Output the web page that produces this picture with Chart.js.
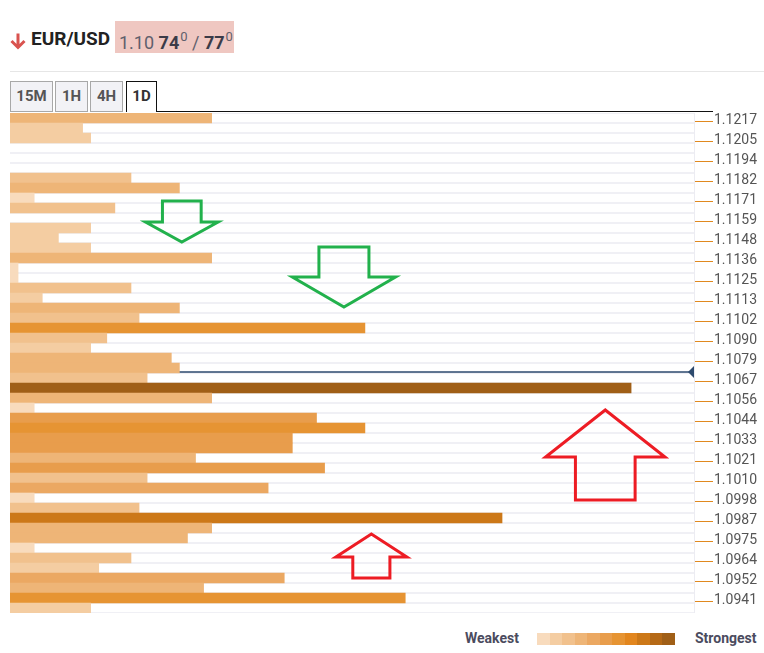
<!DOCTYPE html>
<html lang="en">
<head>
<meta charset="UTF-8">
<title>EUR/USD - Confluence Detector</title>
<script src="https://cdn.jsdelivr.net/npm/chart.js"></script>
<style>
    body { margin: 0; background: #fff; font-family: Roboto, sans-serif; }
    #page { position: relative; width: 764px; height: 653px; overflow: hidden; }
    .abs { position: absolute; }
    #pair { left: 31px; top: 29px; font-size: 19px; line-height: 20px; font-weight: 700; color: #222; }
    #quote { left: 115px; top: 21px; width: 119px; height: 32px; background: #EFC7C1; box-sizing: border-box;
             padding: 2px 0 0 4px; font-size: 18px; line-height: 30px; color: #5f5f6c; white-space: nowrap; }
    #quote b { color: #3b3b48; }
    #quote sup { font-size: 13px; position: relative; top: -1px; margin-left: 1px; }
    #sep { left: 10px; top: 71px; width: 754px; height: 1px; background: #E6E6E6; }
    .tab { top: 81px; height: 31px; box-sizing: border-box; border: 1px solid #A8A8A8; background: #F2F2F6;
           font-size: 15px; font-weight: 700; color: #555; text-align: center; line-height: 29px; }
    .tab.on { background: #fff; border-color: #111; border-bottom: none; color: #333; }
    #baseline { left: 156px; top: 111px; width: 557px; height: 1px; background: #111; }
    .chart-container { left: 10px; top: 113px; width: 754px; height: 500px; }
    .legend-text { top: 630px; font-size: 14px; line-height: 16px; font-weight: 700; color: #4b4b5e; }
    #swatches { left: 537px; top: 633px; height: 12px; display: flex; }
    #swatches div { width: 12.55px; height: 12px; }
</style>
</head>
<body>
<div id="page">
    <svg class="abs" style="left:9px;top:32px" width="18" height="18" viewBox="0 0 18 18">
        <path d="M9 1.5 V15.5 M2.5 9 L9 15.5 L15.5 9" fill="none" stroke="#D9534F" stroke-width="3"/>
    </svg>
    <div id="pair" class="abs">EUR/USD</div>
    <div id="quote" class="abs">1.10 <b>74</b><sup>0</sup> / <b>77</b><sup>0</sup></div>
    <div id="sep" class="abs"></div>

    <div class="abs tab" style="left:10px;width:43px">15M</div>
    <div class="abs tab" style="left:55px;width:33px">1H</div>
    <div class="abs tab" style="left:90px;width:33px">4H</div>
    <div class="abs tab on" style="left:126px;width:31px">1D</div>
    <div id="baseline" class="abs"></div>

    <div class="abs chart-container">
        <canvas id="confluenceChart"></canvas>
    </div>

    <div class="abs legend-text" style="left:465px">Weakest</div>
    <div id="swatches" class="abs"></div>
    <div class="abs legend-text" style="left:695px">Strongest</div>
</div>

<script>
    // price levels shown on the right axis (one every two rows)
    const tickLabels = ['1.1217', '1.1205', '1.1194', '1.1182', '1.1171', '1.1159', '1.1148', '1.1136', '1.1125',
        '1.1113', '1.1102', '1.1090', '1.1079', '1.1067', '1.1056', '1.1044', '1.1033', '1.1021', '1.1010',
        '1.0998', '1.0987', '1.0975', '1.0964', '1.0952', '1.0941'];

    // confluence strength per row, top to bottom
    const strength = [25, 9, 10, 0, 0, 0, 15, 21, 3, 13,
        0, 10, 6, 10, 25, 1, 1, 15, 4, 21,
        16, 44, 12, 10, 20, 21, 17, 77, 25, 3,
        38, 44, 35, 35, 23, 39, 17, 32, 3, 16,
        61, 25, 22, 3, 15, 11, 34, 24, 49, 10];

    // shade (1 = weakest, 11 = strongest) per row
    const shade = [4, 2, 2, 0, 0, 0, 3, 4, 1, 3,
        0, 2, 2, 2, 4, 1, 1, 3, 2, 4,
        3, 7, 3, 2, 4, 4, 3, 11, 4, 1,
        6, 7, 6, 6, 4, 6, 3, 5, 1, 3,
        9, 4, 4, 1, 3, 2, 5, 4, 7, 2];

    const palette = ['#F8DBBD', '#F4CDA2', '#F1C18D', '#EEB577', '#EBA862', '#E89D4C',
        '#E69433', '#E2861E', '#CC7818', '#B56916', '#A05F17'];

    const rows = Array.from({ length: strength.length }, (_, i) => 'r' + i);
    const currentPriceRow = 25.4;   // 1.1074 on the row scale

    // hand-drawn arrows: x in strength units, rows for tip / head base / tail
    const arrows = [
        { color: '#22B14C', x: 21.3, shaft: 2.4, head: 4.5, tip: 12.4, base: 10.4, tail: 8.3 },
        { color: '#22B14C', x: 41.4, shaft: 3.1, head: 6.4, tip: 18.9, base: 15.9, tail: 12.9 },
        { color: '#ED1C24', x: 73.8, shaft: 3.7, head: 7.4, tip: 29.2, base: 33.9, tail: 38.2 },
        { color: '#ED1C24', x: 44.8, shaft: 2.3, head: 4.4, tip: 41.6, base: 43.9, tail: 46.0 }
    ];

    document.getElementById('swatches').innerHTML = palette.map(c => `<div style="background:${c}"></div>`).join('');

    Chart.defaults.font.family = 'Roboto';

    const overlay = {
        id: 'overlay',
        beforeDatasetsDraw(chart) {
            const { ctx, chartArea, scales } = chart;
            const y = scales.y.getPixelForValue(currentPriceRow);
            ctx.save();
            ctx.strokeStyle = '#2D4A6E';
            ctx.lineWidth = 1.5;
            ctx.beginPath();
            ctx.moveTo(chartArea.left, y);
            ctx.lineTo(chartArea.right, y);
            ctx.stroke();
            ctx.restore();
        },
        afterDraw(chart) {
            const { ctx, chartArea, scales } = chart;
            ctx.save();

            // orange tick under each price label
            ctx.strokeStyle = '#E0891F';
            ctx.lineWidth = 1;
            tickLabels.forEach((l, k) => {
                const ty = Math.round(scales.y.getPixelForValue(k * 2) + 3) + 0.5;
                ctx.beginPath();
                ctx.moveTo(chartArea.right + 1, ty);
                ctx.lineTo(chartArea.right + 19, ty);
                ctx.stroke();
            });

            // current price marker
            const y = scales.y.getPixelForValue(currentPriceRow);
            ctx.fillStyle = '#2D4A6E';
            ctx.beginPath();
            ctx.moveTo(chartArea.right - 6, y);
            ctx.lineTo(chartArea.right, y - 6);
            ctx.lineTo(chartArea.right, y + 6);
            ctx.closePath();
            ctx.fill();

            ctx.lineWidth = 3;
            ctx.lineJoin = 'miter';
            arrows.forEach(a => {
                const px = v => scales.x.getPixelForValue(v);
                const py = v => scales.y.getPixelForValue(v);
                ctx.strokeStyle = a.color;
                ctx.beginPath();
                ctx.moveTo(px(a.x - a.shaft), py(a.tail));
                ctx.lineTo(px(a.x + a.shaft), py(a.tail));
                ctx.lineTo(px(a.x + a.shaft), py(a.base));
                ctx.lineTo(px(a.x + a.head), py(a.base));
                ctx.lineTo(px(a.x), py(a.tip));
                ctx.lineTo(px(a.x - a.head), py(a.base));
                ctx.lineTo(px(a.x - a.shaft), py(a.base));
                ctx.closePath();
                ctx.stroke();
            });
            ctx.restore();
        }
    };

    new Chart(document.getElementById('confluenceChart'), {
        type: 'bar',
        data: {
            labels: rows,
            datasets: [{
                data: strength,
                backgroundColor: shade.map(s => s > 0 ? palette[s - 1] : 'rgba(0,0,0,0)'),
                borderWidth: 0,
                barPercentage: 1,
                categoryPercentage: 1
            }]
        },
        options: {
            indexAxis: 'y',
            responsive: true,
            maintainAspectRatio: false,
            animation: false,
            layout: { padding: 0 },
            plugins: {
                legend: { display: false },
                tooltip: { enabled: false }
            },
            scales: {
                x: { display: false, min: 0, max: 84.8 },
                y: {
                    position: 'right',
                    afterFit: s => { s.width = 70; s.paddingTop = 0; s.paddingBottom = 0; },
                    grid: {
                        offset: true,
                        color: '#F0F0F5',
                        lineWidth: 2,
                        drawTicks: false
                    },
                    border: { color: '#ECECF2' },
                    ticks: {
                        autoSkip: false,
                        padding: 20,
                        labelOffset: 2,
                        color: '#555',
                        font: { size: 14 },
                        callback: (v, i) => i % 2 === 0 ? tickLabels[i / 2] : ''
                    }
                }
            }
        },
        plugins: [overlay]
    });
</script>
</body>
</html>
